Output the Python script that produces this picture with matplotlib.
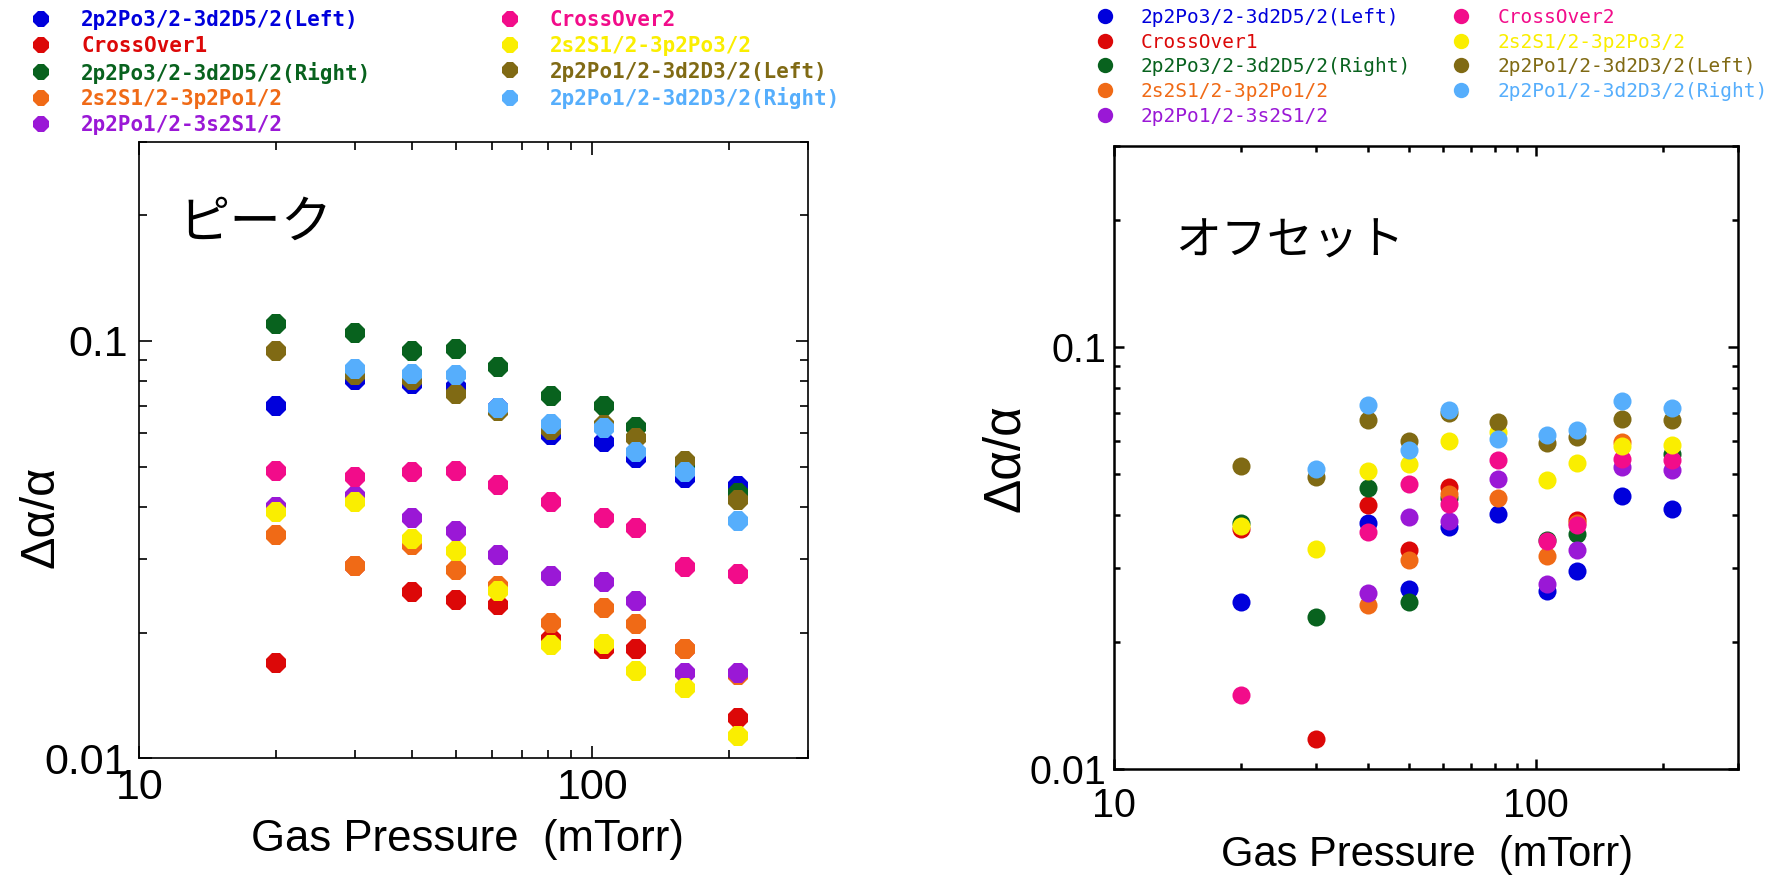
import numpy as np
import matplotlib
matplotlib.use("Agg")
import matplotlib.pyplot as plt
from matplotlib.ticker import LogLocator, NullFormatter, FixedLocator, FixedFormatter

nan = np.nan

# ---------------- data ----------------
pressure = [20, 30, 40, 50, 62, 81, 106, 125, 160, 210]

series_names = [
    "2p2Po3/2-3d2D5/2(Left)",
    "CrossOver1",
    "2p2Po3/2-3d2D5/2(Right)",
    "2s2S1/2-3p2Po1/2",
    "2p2Po1/2-3s2S1/2",
    "CrossOver2",
    "2s2S1/2-3p2Po3/2",
    "2p2Po1/2-3d2D3/2(Left)",
    "2p2Po1/2-3d2D3/2(Right)",
]
series_colors = ["#0000DC", "#DC0808", "#08621E", "#F06A16", "#9A18D6",
                 "#F20C8A", "#FAEE00", "#806A14", "#56AEFC"]

# Peak (left panel)
peak_p32_d52_left = [0.0698, 0.0805, 0.0790, 0.0776, 0.0690, 0.0595, 0.0571, 0.0523, 0.0469, 0.0448]
peak_crossover1 = [0.0169, 0.0289, 0.0250, 0.0240, 0.0233, 0.0193, 0.0183, 0.0183, 0.0183, 0.0125]
peak_p32_d52_right = [0.1100, 0.1047, 0.0945, 0.0954, 0.0867, 0.0739, 0.0699, 0.0621, 0.0500, 0.0432]
peak_s12_p12 = [0.0343, 0.0289, 0.0325, 0.0282, 0.0258, 0.0211, 0.0229, 0.0210, 0.0183, 0.0158]
peak_p12_s12 = [0.0401, 0.0424, 0.0377, 0.0351, 0.0307, 0.0274, 0.0264, 0.0238, 0.0160, 0.0160]
peak_crossover2 = [0.0488, 0.0473, 0.0484, 0.0488, 0.0452, 0.0412, 0.0377, 0.0357, 0.0287, 0.0277]
peak_s12_p32 = [0.0389, 0.0411, 0.0336, 0.0313, 0.0252, 0.0187, 0.0188, 0.0162, 0.0147, 0.0113]
peak_p12_d32_left = [0.0945, 0.0827, 0.0805, 0.0746, 0.0679, 0.0611, 0.0628, 0.0586, 0.0516, 0.0416]
peak_p12_d32_right = [nan, 0.0854, 0.0835, 0.0828, 0.0692, 0.0631, 0.0620, 0.0541, 0.0484, 0.0371]

# Offset (right panel)
off_p32_d52_left = [0.0249, nan, 0.0383, 0.0267, 0.0374, 0.0402, 0.0265, 0.0295, 0.0443, 0.0414]
off_crossover1 = [0.0370, 0.0118, 0.0422, 0.0330, 0.0466, nan, nan, 0.0389, nan, nan]
off_p32_d52_right = [0.0383, 0.0229, 0.0465, 0.0249, 0.0438, nan, 0.0350, 0.0360, nan, 0.0559]
off_s12_p12 = [nan, nan, 0.0245, 0.0313, 0.0450, 0.0438, 0.0320, 0.0383, 0.0596, nan]
off_p12_s12 = [nan, nan, 0.0261, 0.0396, 0.0388, 0.0488, 0.0274, 0.0330, 0.0520, 0.0511]
off_crossover2 = [0.0150, nan, 0.0365, 0.0475, 0.0426, 0.0539, 0.0347, 0.0379, 0.0544, 0.0539]
off_s12_p32 = [0.0376, 0.0333, 0.0509, 0.0530, 0.0599, 0.0629, 0.0484, 0.0532, 0.0582, 0.0585]
off_p12_d32_left = [0.0522, 0.0493, 0.0671, 0.0599, 0.0700, 0.0665, 0.0593, 0.0612, 0.0675, 0.0671]
off_p12_d32_right = [nan, 0.0515, 0.0728, 0.0572, 0.0708, 0.0607, 0.0618, 0.0637, 0.0745, 0.0719]

peak_series = [peak_p32_d52_left, peak_crossover1, peak_p32_d52_right, peak_s12_p12,
               peak_p12_s12, peak_crossover2, peak_s12_p32, peak_p12_d32_left, peak_p12_d32_right]
off_series = [off_p32_d52_left, off_crossover1, off_p32_d52_right, off_s12_p12,
              off_p12_s12, off_crossover2, off_s12_p32, off_p12_d32_left, off_p12_d32_right]

x_ticks = [10, 100]
x_ticklabels = ["10", "100"]
y_ticks = [0.01, 0.1]
y_ticklabels = ["0.01", "0.1"]
xlabel_text = "Gas Pressure  (mTorr)"
ylabel_text = "Δα/α"
panel_titles = ["ピーク", "オフセット"]

# ---------------- figure ----------------
W, H = 1784, 877
fig = plt.figure(figsize=(W / 100, H / 100), dpi=100)

def px_rect(x0, y0, x1, y1):
    return [x0 / W, 1 - y1 / H, (x1 - x0) / W, (y1 - y0) / H]

axL = fig.add_axes(px_rect(139.3, 141.7, 808.3, 758.3))
axR = fig.add_axes(px_rect(1114.3, 145.7, 1737.7, 769.3))

TICKFONT = "Liberation Sans"

def style_axes(ax, spine_w, maj_len, min_len, xpad, ypad, fs):
    ax.set_xscale("log")
    ax.set_yscale("log")
    ax.set_xlim(10, 300)
    ax.set_ylim(0.01, 0.3)
    ax.xaxis.set_major_locator(FixedLocator(x_ticks))
    ax.xaxis.set_major_formatter(FixedFormatter(x_ticklabels))
    ax.yaxis.set_major_locator(FixedLocator(y_ticks))
    ax.yaxis.set_major_formatter(FixedFormatter(y_ticklabels))
    ax.xaxis.set_minor_locator(LogLocator(base=10, subs=np.arange(2, 10)))
    ax.yaxis.set_minor_locator(LogLocator(base=10, subs=np.arange(2, 10)))
    ax.xaxis.set_minor_formatter(NullFormatter())
    ax.yaxis.set_minor_formatter(NullFormatter())
    for s in ax.spines.values():
        s.set_linewidth(spine_w)
    ax.tick_params(which="both", direction="in", top=True, right=True,
                   width=spine_w, labelsize=fs)
    ax.tick_params(which="major", length=maj_len)
    ax.tick_params(which="minor", length=min_len)
    ax.tick_params(axis="x", which="both", pad=xpad)
    ax.tick_params(axis="y", which="both", pad=ypad)
    for lab in ax.get_xticklabels() + ax.get_yticklabels():
        lab.set_fontfamily(TICKFONT)

style_axes(axL, 1.2, 9, 5.5, 7.0, 8.0, 31)
style_axes(axR, 1.8, 7.5, 4.0, 13.0, 5.5, 28.5)

# data points
for ys, name, col in zip(peak_series, series_names, series_colors):
    axL.plot(pressure, ys, ls="none", marker="8", ms=15, mew=0,
             color=col, label=name)
for ys, name, col in zip(off_series, series_names, series_colors):
    axR.plot(pressure, ys, ls="none", marker="o", ms=13, mew=0,
             color=col, label=name)

# axis labels
axL.set_xlabel(xlabel_text, fontsize=31.5, family=TICKFONT)
axL.xaxis.set_label_coords(0.49, -0.131, transform=axL.transAxes)
axL.xaxis.label.set_va("center")
axL.set_ylabel(ylabel_text, fontsize=35, family=TICKFONT)
axL.yaxis.set_label_coords(-0.114, 0.391)

axR.set_xlabel(xlabel_text, fontsize=30, family=TICKFONT)
axR.xaxis.set_label_coords(0.502, -0.137, transform=axR.transAxes)
axR.xaxis.label.set_va("center")
axR.set_ylabel(ylabel_text, fontsize=37, family=TICKFONT)
axR.yaxis.set_label_coords(-0.135, 0.499)

# panel annotations
axL.text(0.058, 0.868, panel_titles[0], transform=axL.transAxes,
         fontsize=37, family=["Noto Sans CJK JP", "DejaVu Sans"], va="center", ha="left")
axR.text(0.098, 0.846, panel_titles[1], transform=axR.transAxes,
         fontsize=33, family=["Noto Sans CJK JP", "DejaVu Sans"], va="center", ha="left")

# legends
fsL = 15
legL = axL.legend(loc="upper left", bbox_to_anchor=(30.6 / W, 1 - 10.5 / H),
                  bbox_transform=fig.transFigure, ncol=2, frameon=False,
                  borderpad=0, borderaxespad=0, handlelength=1.0,
                  handletextpad=1.42, columnspacing=6.13, labelspacing=0.27,
                  markerscale=0.8, numpoints=1, labelcolor="markerfacecolor",
                  prop={"family": "DejaVu Sans Mono", "size": fsL, "weight": "bold"})
fsR = 14
legR = axR.legend(loc="upper left", bbox_to_anchor=(1095.3 / W, 1 - 8.0 / H),
                  bbox_transform=fig.transFigure, ncol=2, frameon=False,
                  borderpad=0, borderaxespad=0, handlelength=1.0,
                  handletextpad=1.35, columnspacing=2.07, labelspacing=0.29,
                  markerscale=0.85, numpoints=1, labelcolor="markerfacecolor",
                  prop={"family": "DejaVu Sans Mono", "size": fsR})

fig.savefig("out.png", dpi=100)
